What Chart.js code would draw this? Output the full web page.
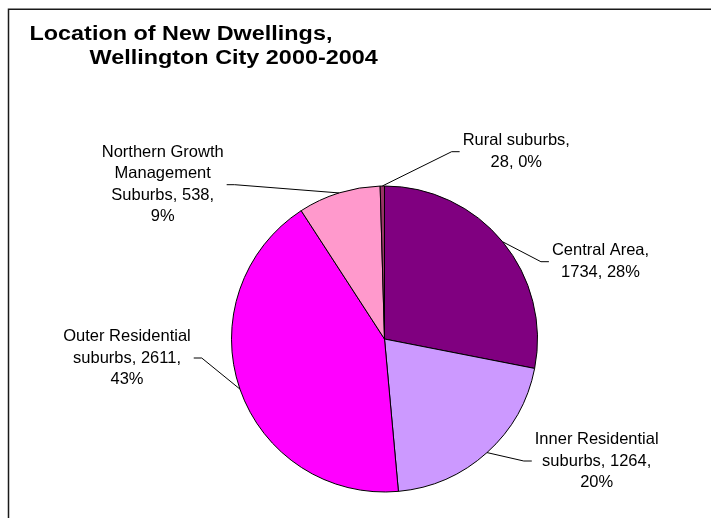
<!DOCTYPE html>
<html>
<head>
<meta charset="utf-8">
<script src="https://cdn.jsdelivr.net/npm/chart.js@4.4.1/dist/chart.umd.min.js"></script>
<style>
  html, body { margin: 0; padding: 0; background: #ffffff; }
  #wrap { width: 711px; height: 518px; }
</style>
</head>
<body>
<div id="wrap"><canvas id="c" width="711" height="518"></canvas></div>
<script>
// ---- data ----
const titleLines = ['Location of New Dwellings,', 'Wellington City 2000-2004'];
const categories = ['Central Area', 'Inner Residential suburbs', 'Outer Residential suburbs', 'Northern Growth Management Suburbs', 'Rural suburbs'];
const values = [1734, 1264, 2611, 538, 28];
const percentLabels = ['28%', '20%', '43%', '9%', '0%'];
// wrapped data labels as shown in the chart
const labelLines = [
  ['Central Area,', values[0] + ', ' + percentLabels[0]],
  ['Inner Residential', 'suburbs, ' + values[1] + ',', percentLabels[1]],
  ['Outer Residential', 'suburbs, ' + values[2] + ',', percentLabels[2]],
  ['Northern Growth', 'Management', 'Suburbs, ' + values[3] + ',', percentLabels[3]],
  ['Rural suburbs,', values[4] + ', ' + percentLabels[4]]
];
const sliceColors = ['#800080', '#CC99FF', '#FF00FF', '#FF99CC', '#993366'];

// ---- layout of labels (block centres) ----
const labelLayout = [
  {x: 600.5, y: 261.7},
  {x: 596.7, y: 461},
  {x: 127, y: 358},
  {x: 162.7, y: 184.7},
  {x: 516.3, y: 151.7}
];

const FONT = '"Liberation Sans", Arial, Helvetica, sans-serif';

const framePlugin = {
  id: 'frame',
  beforeDraw(chart) {
    const ctx = chart.ctx;
    ctx.save();
    ctx.fillStyle = '#ffffff';
    ctx.fillRect(0, 0, chart.width, chart.height);
    ctx.strokeStyle = '#1a1a1a';
    ctx.lineWidth = 1.5;
    ctx.beginPath();
    ctx.moveTo(8.5, chart.height);
    ctx.lineTo(8.5, 9.2);
    ctx.lineTo(chart.width, 9.2);
    ctx.stroke();
    // title (slightly wide lettering, as in the reference)
    ctx.fillStyle = '#000000';
    ctx.font = 'bold 20px ' + FONT;
    ctx.textBaseline = 'alphabetic';
    ctx.textAlign = 'left';
    const sx = 1.17;
    ctx.save();
    ctx.translate(29.5, 39.5);
    ctx.scale(sx, 1);
    ctx.fillText(titleLines[0], 0, 0);
    ctx.restore();
    ctx.save();
    ctx.translate(89.5, 63.5);
    ctx.scale(sx, 1);
    ctx.fillText(titleLines[1], 0, 0);
    ctx.restore();
    ctx.restore();
  }
};

const labelPlugin = {
  id: 'sliceLabels',
  afterDatasetsDraw(chart) {
    const ctx = chart.ctx;
    const meta = chart.getDatasetMeta(0);
    const lineH = 21.5;
    ctx.save();
    ctx.font = '16.5px ' + FONT;
    ctx.textBaseline = 'middle';
    ctx.textAlign = 'center';
    meta.data.forEach((arc, i) => {
      const p = arc.getProps(['x', 'y', 'startAngle', 'endAngle', 'outerRadius'], true);
      const mid = (p.startAngle + p.endAngle) / 2;
      const sx = p.x + Math.cos(mid) * p.outerRadius;
      const sy = p.y + Math.sin(mid) * p.outerRadius;
      const lay = labelLayout[i];
      const lines = labelLines[i];
      let maxW = 0;
      lines.forEach(l => { maxW = Math.max(maxW, ctx.measureText(l).width); });
      const right = lay.x > sx;
      const endX = right ? lay.x - maxW / 2 - 3 : lay.x + maxW / 2 + 3;
      const elbowX = right ? endX - 8 : endX + 8;
      ctx.strokeStyle = '#000000';
      ctx.lineWidth = 1;
      ctx.beginPath();
      ctx.moveTo(sx, sy);
      ctx.lineTo(elbowX, lay.y);
      ctx.lineTo(endX, lay.y);
      ctx.stroke();
      ctx.fillStyle = '#000000';
      const top = lay.y - (lines.length - 1) * lineH / 2;
      lines.forEach((l, k) => ctx.fillText(l, lay.x, top + k * lineH));
    });
    ctx.restore();
  }
};

new Chart(document.getElementById('c'), {
  type: 'pie',
  data: {
    labels: categories,
    datasets: [{
      data: values,
      backgroundColor: sliceColors,
      borderColor: '#000000',
      borderWidth: 1
    }]
  },
  options: {
    responsive: false,
    animation: false,
    devicePixelRatio: 1,
    layout: { padding: { left: 231, right: 173, top: 185.5, bottom: 25.5 } },
    plugins: {
      legend: { display: false },
      tooltip: { enabled: false },
      title: { display: false }
    }
  },
  plugins: [framePlugin, labelPlugin]
});
</script>
</body>
</html>
